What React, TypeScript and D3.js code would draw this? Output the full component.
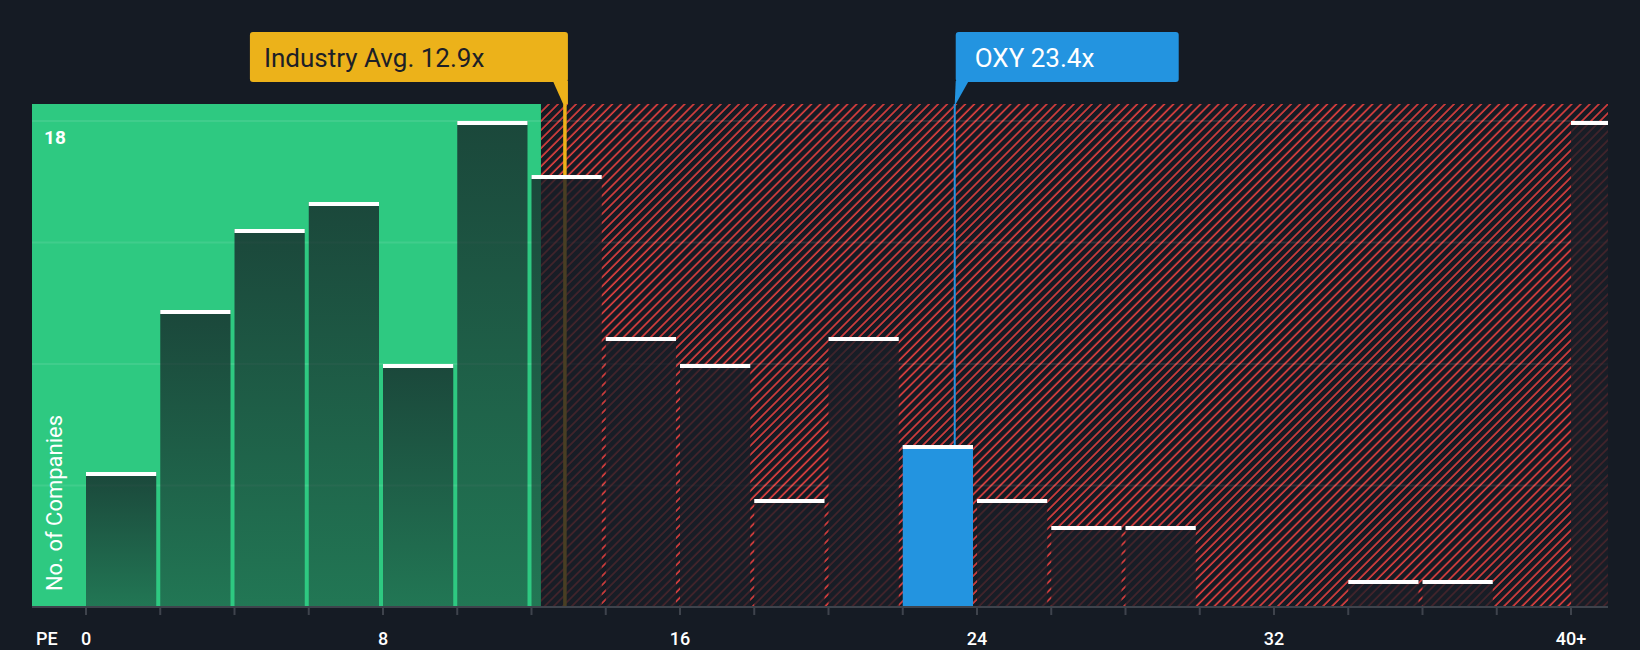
import * as d3 from 'd3';

const binStarts = [0, 2, 4, 6, 8, 10, 12, 14, 16, 18, 20, 22, 24, 26, 28, 30, 32, 34, 36, 38, 40];
const companyCounts = [5, 11, 14, 15, 9, 18, 16, 10, 9, 4, 10, 6, 4, 3, 3, 0, 0, 1, 1, 0, 18];
const tickValues = [0, 2, 4, 6, 8, 10, 12, 14, 16, 18, 20, 22, 24, 26, 28, 30, 32, 34, 36, 38, 40];
const labelValues = [0, 8, 16, 24, 32, 40];
const labelTexts = ['0', '8', '16', '24', '32', '40+'];
const gridValues = [4.5, 9, 13.5, 18];

const industryAvg = 12.9;
const companyPE = 23.4;
const companyName = 'OXY';
const binWidth = 2;

const W = 1640;
const H = 650;
const plot = { left: 32, right: 1608, top: 104, bottom: 607 };

const BG = '#151b24';
const GREEN = '#2ec981';
const RED = '#e3403f';
const GOLD = '#ecb21a';
const BLUE = '#2394e0';
const FONT = 'Roboto, "Noto Sans", sans-serif';

export default function App() {
  const x = d3.scaleLinear().domain([0, 40]).range([86, 1571]);
  const y = d3.scaleLinear().domain([0, 18]).range([607, 121]);

  const greenEnd = x(industryAvg * 0.95);
  const xAvg = x(industryAvg);
  const xCo = x(companyPE);
  const coBin = binStarts.find((b) => companyPE >= b && companyPE < b + binWidth);

  const bars = binStarts.map((b, i) => ({ b, v: companyCounts[i] })).filter((d) => d.v > 0);

  const boxTop = 32;
  const boxBottom = 82;
  const avgRight = xAvg + 3;
  const avgLeft = avgRight - 318;
  const coLeft = xCo + 1;
  const coRight = coLeft + 223;

  const barRect = (d: { b: number; v: number }) => ({
    x: x(d.b),
    y: y(d.v),
    width: x(d.b + binWidth) - x(d.b) - 4,
    height: y(0) - y(d.v),
  });

  return (
    <div style={{ position: 'fixed', left: 0, top: 0, width: W, height: H, background: BG }}>
      <svg width={W} height={H} style={{ display: 'block', fontFamily: FONT }}>
        <defs>
          <pattern
            id="hatch"
            patternUnits="userSpaceOnUse"
            width={6.4}
            height={6.4}
            patternTransform="rotate(45)"
          >
            <rect width={6.4} height={6.4} fill={BG} />
            <line x1={1} y1={0} x2={1} y2={6.4} stroke={RED} strokeWidth={1.6} />
          </pattern>
          <linearGradient id="barGreen" x1="0" y1="0" x2="0" y2="1">
            <stop offset="0" stopColor="#141a22" stopOpacity={0.74} />
            <stop offset="1" stopColor="#141a22" stopOpacity={0.47} />
          </linearGradient>
          <clipPath id="plotClip">
            <rect x={plot.left} y={plot.top} width={plot.right - plot.left} height={plot.bottom - plot.top} />
          </clipPath>
          <clipPath id="greenClip">
            <rect x={plot.left} y={plot.top} width={greenEnd - plot.left} height={plot.bottom - plot.top} />
          </clipPath>
          <clipPath id="redClip">
            <rect x={greenEnd} y={plot.top} width={plot.right - greenEnd} height={plot.bottom - plot.top} />
          </clipPath>
        </defs>

        <rect width={W} height={H} fill={BG} />

        {/* zones */}
        <rect x={plot.left} y={plot.top} width={greenEnd - plot.left} height={plot.bottom - plot.top} fill={GREEN} />
        <rect x={greenEnd} y={plot.top} width={plot.right - greenEnd} height={plot.bottom - plot.top} fill="url(#hatch)" />

        {/* grid */}
        {gridValues.map((g) => (
          <line key={g} x1={plot.left} x2={plot.right} y1={y(g)} y2={y(g)} stroke="#ffffff" strokeOpacity={0.09} strokeWidth={2} />
        ))}

        {/* marker lines */}
        <line x1={xAvg} x2={xAvg} y1={plot.top} y2={plot.bottom} stroke={GOLD} strokeWidth={3.5} />
        <line x1={xCo} x2={xCo} y1={plot.top} y2={plot.bottom} stroke={BLUE} strokeWidth={2} />

        {/* bars */}
        <g clipPath="url(#plotClip)">
          <g clipPath="url(#greenClip)">
            {bars.filter((d) => d.b !== coBin).map((d) => {
              const r = barRect(d);
              return <rect key={d.b} {...r} fill="url(#barGreen)" />;
            })}
          </g>
          <g clipPath="url(#redClip)">
            {bars.filter((d) => d.b !== coBin).map((d) => {
              const r = barRect(d);
              return <rect key={d.b} {...r} fill="#1a1e27" fillOpacity={0.78} />;
            })}
          </g>
          {bars.filter((d) => d.b === coBin).map((d) => {
            const r = barRect(d);
            return <rect key={d.b} {...r} fill={BLUE} />;
          })}
          {bars.map((d) => {
            const r = barRect(d);
            return <rect key={'cap' + d.b} x={r.x} y={r.y} width={r.width} height={4} fill="#ffffff" />;
          })}
        </g>

        {/* y label */}
        <text x={44} y={144} fill="#ffffff" fontSize={19} fontWeight={700}>
          18
        </text>
        <text
          transform="translate(62, 503) rotate(-90)"
          textAnchor="middle"
          fill="#ffffff"
          fontSize={22}
        >
          No. of Companies
        </text>

        {/* x axis */}
        <line x1={plot.left} x2={plot.right} y1={plot.bottom} y2={plot.bottom} stroke="#3e434c" strokeWidth={2} />
        {tickValues.map((t) => (
          <line key={t} x1={x(t)} x2={x(t)} y1={plot.bottom} y2={plot.bottom + 8} stroke="#3e434c" strokeWidth={2} />
        ))}
        {labelValues.map((v, i) => (
          <text key={v} x={x(v)} y={645} textAnchor="middle" fill="#ffffff" fontSize={18} fontWeight={500}>
            {labelTexts[i]}
          </text>
        ))}
        <text x={36} y={645} fill="#ffffff" fontSize={18} fontWeight={500}>
          PE
        </text>

        {/* industry average callout */}
        <rect x={avgLeft} y={boxTop} width={avgRight - avgLeft} height={boxBottom - boxTop} rx={3} fill={GOLD} />
        <polygon
          points={`${avgRight - 15},${boxBottom - 1} ${avgRight},${boxBottom - 1} ${avgRight},${plot.top} ${xAvg - 1.75},${plot.top}`}
          fill={GOLD}
        />
        <text x={avgLeft + 14} y={67} fill="#1c2027" fontSize={26}>
          Industry Avg. {industryAvg}x
        </text>

        {/* company callout */}
        <rect x={coLeft} y={boxTop} width={coRight - coLeft} height={boxBottom - boxTop} rx={3} fill={BLUE} />
        <polygon
          points={`${coLeft},${boxBottom - 1} ${coLeft + 13},${boxBottom - 1} ${xCo + 1},${plot.top} ${coLeft - 1},${plot.top}`}
          fill={BLUE}
        />
        <text x={coLeft + 19} y={67} fill="#ffffff" fontSize={26}>
          {companyName} {companyPE}x
        </text>
      </svg>
    </div>
  );
}
